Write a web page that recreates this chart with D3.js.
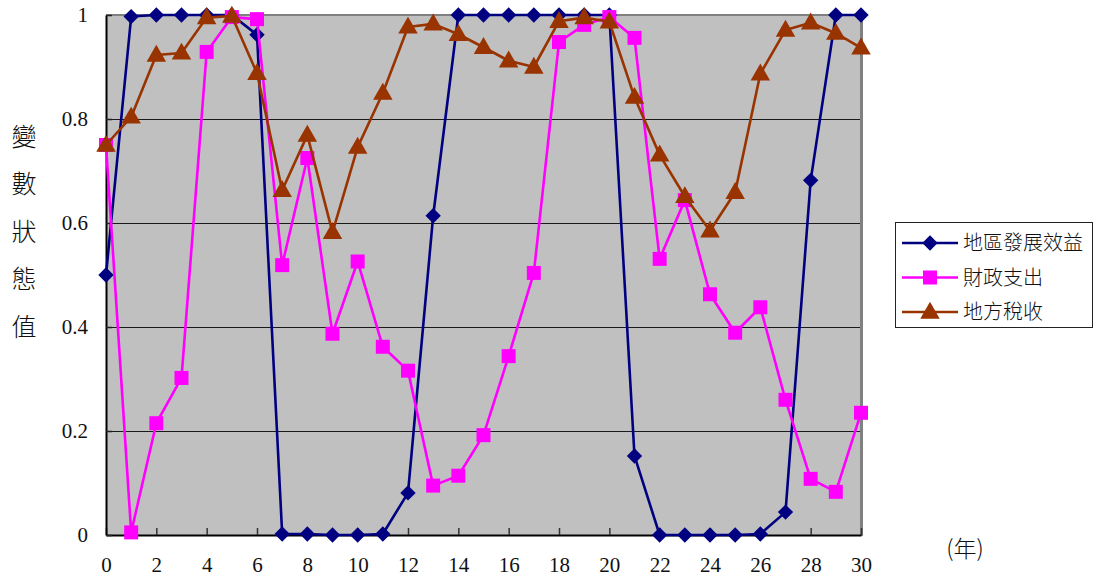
<!DOCTYPE html>
<html>
<head>
<meta charset="utf-8">
<script src="https://cdn.jsdelivr.net/npm/d3@7"></script>
<style>
  html, body { margin: 0; padding: 0; background: #fff; }
  svg { display: block; }
</style>
</head>
<body>
<svg id="chart" width="1096" height="578"></svg>
<script>
// Years 0..30 on the horizontal axis
const years = d3.range(0, 31);

// Variable state values per series
const developmentBenefit = [0.50, 0.997, 1.0, 1.0, 1.0, 1.0, 0.962, 0.002, 0.002, 0.0, 0.0,
  0.002, 0.081, 0.614, 1.0, 1.0, 1.0, 1.0, 1.0, 1.0, 1.0,
  0.152, 0.0, 0.0, 0.0, 0.0, 0.002, 0.044, 0.682, 1.0, 1.0];
const fiscalSpending = [0.75, 0.005, 0.215, 0.302, 0.929, 0.996, 0.992, 0.519, 0.725, 0.387, 0.526,
  0.362, 0.316, 0.095, 0.114, 0.192, 0.344, 0.504, 0.948, 0.981, 0.996,
  0.956, 0.531, 0.644, 0.463, 0.389, 0.438, 0.26, 0.108, 0.083, 0.235];
const localTaxRevenue = [0.75, 0.804, 0.923, 0.927, 0.995, 0.998, 0.888, 0.663, 0.769, 0.582, 0.746,
  0.85, 0.977, 0.983, 0.963, 0.938, 0.912, 0.9, 0.988, 0.995, 0.987,
  0.842, 0.731, 0.651, 0.585, 0.659, 0.887, 0.971, 0.985, 0.965, 0.937];

const seriesNames = ["地區發展效益", "財政支出", "地方稅收"];
const xTicks = d3.range(0, 31, 2);
const yTicks = [0, 0.2, 0.4, 0.6, 0.8, 1];
const yTitleChars = ["變", "數", "狀", "態", "值"];

// Marker shapes: diamond is a square turned 45 degrees
const series = [
  { name: seriesNames[0], values: developmentBenefit, color: "#000080", symbol: d3.symbolSquare, size: 118, rotate: 45, dy: 0 },
  { name: seriesNames[1], values: fiscalSpending, color: "#FF00FF", symbol: d3.symbolSquare, size: 196, rotate: 0, dy: 0 },
  { name: seriesNames[2], values: localTaxRevenue, color: "#993300", symbol: d3.symbolTriangle, size: 165, rotate: 0, dy: 1 }
];

const svg = d3.select("#chart");
const plot = { left: 106, right: 861, top: 15, bottom: 535 };

const x = d3.scaleLinear().domain([0, 30]).range([plot.left, plot.right]);
const y = d3.scaleLinear().domain([0, 1]).range([plot.bottom, plot.top]);

const numFont = "'Liberation Serif', 'DejaVu Serif', serif";
const cjkFont = "'Noto Sans CJK TC', 'Noto Sans CJK SC', sans-serif";

// Plot background
svg.append("rect")
  .attr("x", plot.left).attr("y", plot.top)
  .attr("width", plot.right - plot.left).attr("height", plot.bottom - plot.top)
  .attr("fill", "#C0C0C0");

// Horizontal gridlines
svg.append("g").selectAll("line")
  .data(yTicks.filter(d => d > 0 && d < 1))
  .join("line")
  .attr("x1", plot.left).attr("x2", plot.right)
  .attr("y1", d => Math.round(y(d)) + 0.5).attr("y2", d => Math.round(y(d)) + 0.5)
  .attr("stroke", "#1a1a1a").attr("stroke-width", 1);

// Top and right frame edges
svg.append("line")
  .attr("x1", plot.left).attr("x2", plot.right + 1)
  .attr("y1", plot.top).attr("y2", plot.top)
  .attr("stroke", "#808080").attr("stroke-width", 2);
svg.append("line")
  .attr("x1", plot.right + 0.5).attr("x2", plot.right + 0.5)
  .attr("y1", plot.top - 1).attr("y2", plot.bottom + 1)
  .attr("stroke", "#808080").attr("stroke-width", 3);

// Bottom axis with inward ticks
const xAxis = svg.append("g")
  .attr("transform", `translate(0,${plot.bottom})`)
  .call(d3.axisBottom(x).tickValues(xTicks).tickSizeInner(-7).tickSizeOuter(0).tickFormat(d3.format("d")));
xAxis.select(".domain").attr("stroke", "#000").attr("stroke-width", 2);
xAxis.selectAll(".tick line").attr("stroke", "#333").attr("stroke-width", 1.5);
xAxis.selectAll(".tick text")
  .attr("y", 22).attr("dy", "0.71em")
  .attr("font-family", numFont).attr("font-size", 21).attr("fill", "#111");

// Left axis with inward ticks
const yAxis = svg.append("g")
  .attr("transform", `translate(${plot.left},0)`)
  .call(d3.axisLeft(y).tickValues(yTicks).tickSizeInner(-6).tickSizeOuter(0).tickFormat(d => d3.format("")(+d.toFixed(1))));
yAxis.select(".domain").attr("stroke", "#000").attr("stroke-width", 2);
yAxis.selectAll(".tick line").attr("stroke", "#222").attr("stroke-width", 1.5);
yAxis.selectAll(".tick text")
  .attr("x", -18)
  .attr("font-family", numFont).attr("font-size", 21).attr("fill", "#111");

// Series lines and markers
const line = d3.line().x((d, i) => x(years[i])).y(d => y(d));
series.forEach(s => {
  const g = svg.append("g");
  g.append("path")
    .datum(s.values)
    .attr("d", line)
    .attr("fill", "none")
    .attr("stroke", s.color)
    .attr("stroke-width", 2.6)
    .attr("stroke-linejoin", "round");
  const sym = d3.symbol().type(s.symbol).size(s.size);
  g.selectAll("path.marker")
    .data(s.values)
    .join("path")
    .attr("class", "marker")
    .attr("d", sym)
    .attr("transform", (d, i) => `translate(${x(years[i])},${y(d) + s.dy}) rotate(${s.rotate})`)
    .attr("fill", s.color);
});

// Vertical axis title, one character per line
svg.append("g").selectAll("text")
  .data(yTitleChars)
  .join("text")
  .attr("x", 24)
  .attr("y", (d, i) => 137 + i * 47.5)
  .attr("dy", "0.35em")
  .attr("text-anchor", "middle")
  .attr("font-family", cjkFont)
  .attr("font-size", 25)
  .attr("font-weight", 300)
  .attr("fill", "#111")
  .text(d => d);

// Horizontal axis unit
svg.append("text")
  .attr("x", 965).attr("y", 549)
  .attr("dy", "0.35em")
  .attr("text-anchor", "middle")
  .attr("font-family", cjkFont)
  .attr("font-size", 23)
  .attr("font-weight", 300)
  .attr("fill", "#111")
  .text("(年)");

// Legend
const legend = svg.append("g");
legend.append("rect")
  .attr("x", 895.5).attr("y", 222.5).attr("width", 197).attr("height", 105)
  .attr("fill", "#fff").attr("stroke", "#222").attr("stroke-width", 1);
series.forEach((s, i) => {
  const cy = 243 + i * 34.5;
  legend.append("line")
    .attr("x1", 902).attr("x2", 958).attr("y1", cy).attr("y2", cy)
    .attr("stroke", s.color).attr("stroke-width", 2.6);
  legend.append("path")
    .attr("d", d3.symbol().type(s.symbol).size(s.size)())
    .attr("transform", `translate(930,${cy + s.dy}) rotate(${s.rotate})`)
    .attr("fill", s.color);
  legend.append("text")
    .attr("x", 963).attr("y", cy)
    .attr("dy", "0.35em")
    .attr("font-family", cjkFont)
    .attr("font-size", 20)
    .attr("font-weight", 300)
    .attr("fill", "#111")
    .text(s.name);
});
</script>
</body>
</html>
